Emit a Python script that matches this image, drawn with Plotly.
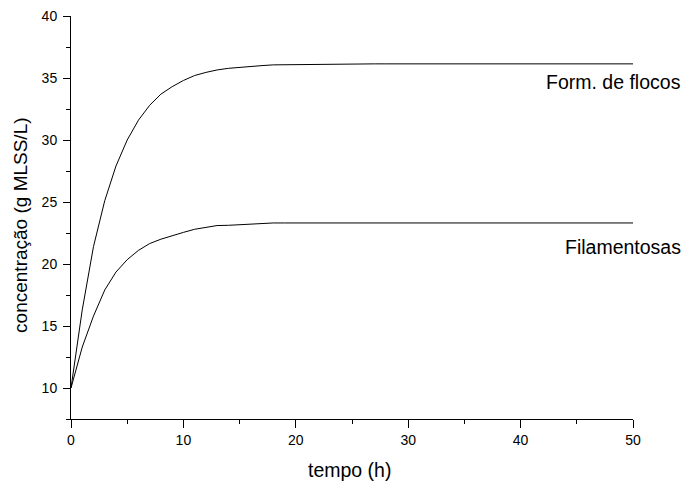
import plotly.graph_objects as go

tempo = list(range(0, 51))

flocos_head = [10.0, 16.3, 21.4, 25.1, 27.9, 30.0, 31.6, 32.8, 33.7, 34.3,
               34.8, 35.2, 35.45, 35.65, 35.78, 35.87, 35.93, 36.0, 36.06, 36.07,
               36.08, 36.08]
flocos = flocos_head + [36.14] * (51 - len(flocos_head))

filam_head = [10.0, 13.3, 15.8, 17.9, 19.35, 20.35, 21.1, 21.65, 22.0, 22.3,
              22.55, 22.8, 22.95, 23.1, 23.12, 23.18, 23.25]
filamentosas = filam_head + [23.31] * (51 - len(filam_head))

x_ticks = [0, 10, 20, 30, 40, 50]
y_ticks = [10, 15, 20, 25, 30, 35, 40]

FONT = "Arial, Liberation Sans, sans-serif"

fig = go.Figure()
fig.add_trace(go.Scatter(x=tempo, y=flocos, mode="lines",
                         line=dict(color="black", width=1), showlegend=False))
fig.add_trace(go.Scatter(x=tempo, y=filamentosas, mode="lines",
                         line=dict(color="black", width=1), showlegend=False))

fig.update_layout(
    width=686, height=482,
    margin=dict(l=71, r=53, t=15.5, b=63.3, pad=0),
    plot_bgcolor="white", paper_bgcolor="white",
    font=dict(family=FONT, size=14, color="black"),
    showlegend=False,
)
fig.update_xaxes(range=[0, 50], tickvals=x_ticks, showline=True, linecolor="black",
                 linewidth=1, ticks="outside", ticklen=8, tickwidth=1, tickcolor="black",
                 showgrid=False, zeroline=False, automargin=False,
                 minor=dict(ticks="outside", ticklen=4, dtick=5, tick0=0,
                            tickcolor="black", showgrid=False),
                 tickfont=dict(size=14))
fig.update_yaxes(range=[7.5, 40], tickvals=y_ticks, showline=True, linecolor="black",
                 linewidth=1, ticks="outside", ticklen=7, tickwidth=1, tickcolor="black",
                 showgrid=False, zeroline=False, automargin=False, ticklabelstandoff=3,
                 minor=dict(ticks="outside", ticklen=4, dtick=2.5, tick0=0,
                            tickcolor="black", showgrid=False),
                 tickfont=dict(size=14))

fig.add_annotation(text="Form. de flocos", xref="paper", yref="y",
                   x=(683 - 71) / 562, y=34.66, xanchor="right", yanchor="middle",
                   showarrow=False, font=dict(size=19.5))
fig.add_annotation(text="Filamentosas", xref="paper", yref="y",
                   x=(683 - 71) / 562, y=21.38, xanchor="right", yanchor="middle",
                   showarrow=False, font=dict(size=19.5))
fig.add_annotation(text="tempo (h)", xref="paper", yref="paper",
                   x=0.4964, y=-(470 - 418.7) / 403.2, xanchor="center", yanchor="middle",
                   showarrow=False, font=dict(size=19.5))
fig.add_annotation(text="concentração (g MLSS/L)", xref="paper", yref="paper",
                   x=-(71 - 20.5) / 562, y=(418.7 - 225) / 403.2, xanchor="center",
                   yanchor="middle", textangle=-90,
                   showarrow=False, font=dict(size=19))

fig.write_html("out.html")
